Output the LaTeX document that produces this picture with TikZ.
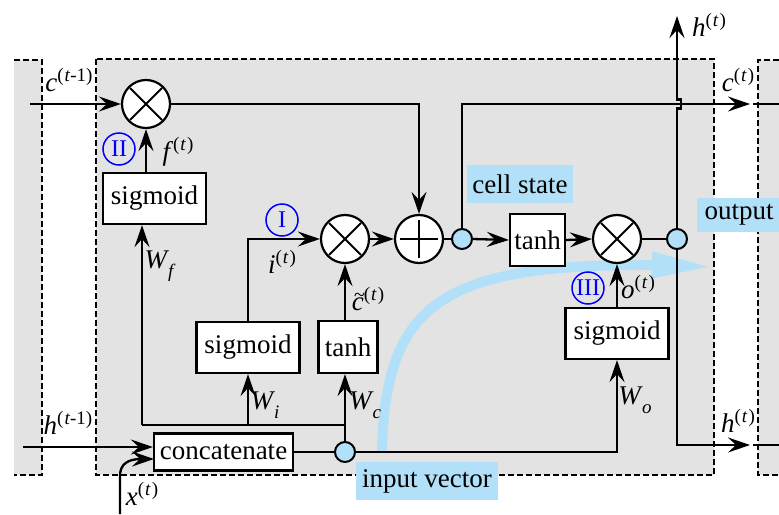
\documentclass[tikz,border=0pt]{standalone}
\usepackage{fontspec}
\setmainfont{Liberation Serif}
\newfontfamily\timesf{Liberation Serif}
\usetikzlibrary{arrows.meta,calc}
\definecolor{cellgray}{RGB}{227,227,227}
\definecolor{lblue}{RGB}{178,224,248}
\newcommand{\lsup}[2]{\textit{#1}\raisebox{10pt}{\fontsize{19}{19}\selectfont #2}}
\newcommand{\lsub}[2]{\textit{#1}\kern-1pt\raisebox{-9pt}{\fontsize{19}{19}\selectfont\textit{#2}}}
\newcommand{\tpar}{(\kern1pt\textit{t}\kern1pt)}
\newcommand{\ctil}{\makebox[0pt][l]{\raisebox{9pt}{\kern2pt\fontsize{20}{20}\selectfont\textasciitilde}}\textit{c}}
\begin{document}
\begin{tikzpicture}[x=1pt,y=-1pt,
  every node/.style={font=\timesf\fontsize{27}{30}\selectfont},
  conn/.style={line width=2.3pt},
  arr/.style={conn,-{Stealth[length=22pt,width=15pt,inset=8pt]}},
  opbox/.style={draw,line width=2.2pt,fill=white,inner sep=0pt},
  mult/.style={circle,draw,line width=2.2pt,fill=white,minimum size=48pt,inner sep=0pt,
    path picture={\draw[line width=2pt]
      ([xshift=-16pt,yshift=-16pt]path picture bounding box.center) -- ([xshift=16pt,yshift=16pt]path picture bounding box.center)
      ([xshift=-16pt,yshift=16pt]path picture bounding box.center) -- ([xshift=16pt,yshift=-16pt]path picture bounding box.center);}},
  addc/.style={circle,draw,line width=2.2pt,fill=white,minimum size=48pt,inner sep=0pt,
    path picture={\draw[line width=2pt]
      ([xshift=-19pt]path picture bounding box.center) -- ([xshift=19pt]path picture bounding box.center)
      ([yshift=-19pt]path picture bounding box.center) -- ([yshift=19pt]path picture bounding box.center);}},
  dot/.style={circle,draw,line width=2pt,fill=lblue,minimum size=20pt,inner sep=0pt},
  roman/.style={circle,draw=blue,line width=1.5pt,text=blue,minimum size=32pt,inner sep=0pt,font=\timesf\fontsize{24}{24}\selectfont},
  tag/.style={fill=lblue,inner sep=0pt},
  cellbd/.style={line width=1.6pt,dash pattern=on 6pt off 3pt},
  lab/.style={inner sep=0pt}
]
\useasboundingbox (0,0) rectangle (779,514);
% cells
\fill[cellgray] (14,60) rectangle (42,475);
\draw[cellbd] (14,60) -- (42,60) -- (42,475) -- (14,475);
\fill[cellgray] (96,59) rectangle (714,475);
\draw[cellbd] (96,59) rectangle (714,475);
\fill[cellgray] (758,60) rectangle (779,475);
\draw[cellbd] (779,60) -- (758,60) -- (758,475) -- (779,475);

% blue flow arrow
\draw[lblue,line width=10pt,-{Triangle[length=60pt,width=24pt]}]
  (382,452) .. controls (385,305) and (440,264) .. (650,265) -- (712,267);

% operation nodes
\node[mult] (mulf) at (146,104) {};
\node[mult] (muli) at (345,239) {};
\node[addc] (plus) at (419,239) {};
\node[mult] (mulo) at (617,239) {};
\node[dot] (bs) at (462,239) {};
\node[dot] (bo) at (677,239) {};
\node[dot] (bi) at (345,452) {};

\node[opbox,minimum width=103pt,minimum height=51pt] (sigf) at (154.5,198.5) {sigmoid};
\node[opbox,minimum width=103pt,minimum height=51pt] (sigi) at (248,347.5) {sigmoid};
\node[opbox,minimum width=59pt,minimum height=52pt] (tanhc) at (348,347) {tanh};
\node[opbox,minimum width=139pt,minimum height=37pt] (concat) at (223.5,452) {concatenate};
\node[opbox,minimum width=55pt,minimum height=52pt] (tanhs) at (537.5,240) {tanh};
\node[opbox,minimum width=103pt,minimum height=51pt] (sigo) at (617,333.5) {sigmoid};

% highlighted tags
\node[tag,minimum width=106pt,minimum height=38pt] (tcell) at (520,184) {cell state};
\node[tag,minimum width=84pt,minimum height=34pt] (tout) at (739,215) {output};
\node[tag,minimum width=142pt,minimum height=38pt] (tin) at (427,481) {input vector};

% roman numerals
\node[roman] (r2) at (119,149) {II};
\node[roman] (r1) at (282,220) {I};
\node[roman] (r3) at (588,288) {III};

% coordinates for free ends
\coordinate (cin) at (30,104);
\coordinate (hin) at (23,447);
\coordinate (xin0) at (120,514);
\coordinate (xin) at (154,459);
\coordinate (wl) at (142,425);
\coordinate (wr) at (345,425);
\coordinate (cout) at (750,104);
\coordinate (cnext) at (753,104);
\coordinate (cend) at (779,104);
\coordinate (htop) at (677,16);
\coordinate (hout) at (750,445);
\coordinate (hnext) at (753,445);
\coordinate (hend) at (779,445);

% connectors
\draw[arr] (cin) -- (mulf.west);
\draw[arr] (hin) -- (hin -| concat.west);
\draw[arr] (xin0) -- (120,476) .. controls (120,464) and (128,459) .. (xin);
\draw[arr] (mulf.east) -| (plus.north);
\draw[arr] (sigf.north -| mulf.south) -- (mulf.south);
\draw[conn] (wl) -- (wr);
\draw[arr] (wl) -- (wl |- sigf.south);
\draw[arr] (wl -| sigi.south) -- (sigi.south);
\draw[arr] (sigi.north) |- (muli.west);
\draw[arr] (bi.north) -- (tanhc.south -| bi.north);
\draw[arr] (tanhc.north -| muli.south) -- (muli.south);
\draw[conn] (concat.east) -- (bi.west);
\draw[arr] (bi.east) -| (sigo.south);
\draw[arr] (sigo.north) -- (mulo.south);
\draw[arr] (muli.east) -- (plus.west);
\draw[conn] (plus.east) -- (bs.west);
\draw[arr] (bs.east) -- (tanhs.west);
\draw[arr] (tanhs.east) -- (mulo.west);
\draw[conn] (mulo.east) -- (bo.west);
\draw[arr] (bs.north) |- (cout);
\draw[conn] (cnext) -- (cend);
\draw[arr] (bo.north) -- (677,108.5) -- (681,108.5) -- (681,99.5) -- (677,99.5) -- (htop);
\draw[arr] (bo.south) |- (hout);
\draw[conn] (hnext) -- (hend);

% labels
\node[lab] (lc0) at (69,80) {\lsup{c}{(\kern1pt\textit{t}-1)}};
\node[lab] (lh0) at (68,423) {\lsup{h}{(\kern1pt\textit{t}-1)}};
\node[lab] (lx) at (142,494) {\lsup{x}{\tpar}};
\node[lab] (lf) at (178,152) {\lsup{f}{\tpar}};
\node[lab] (lwf) at (160,266) {\lsub{W}{f}};
\node[lab] (li) at (282,262) {\lsup{i}{\tpar}};
\node[lab] (lct) at (368,299) {\lsup{\ctil}{\tpar}};
\node[lab] (lwi) at (265,405) {\lsub{W}{i}};
\node[lab] (lwc) at (365,405) {\lsub{W}{c}};
\node[lab] (lwo) at (635,400) {\lsub{W}{o}};
\node[lab] (lo) at (638,287) {\lsup{o}{\tpar}};
\node[lab] (lht) at (709,25) {\lsup{h}{\tpar}};
\node[lab] (lc) at (738,80) {\lsup{c}{\tpar}};
\node[lab] (lh) at (738,421) {\lsup{h}{\tpar}};
\end{tikzpicture}
\end{document}
